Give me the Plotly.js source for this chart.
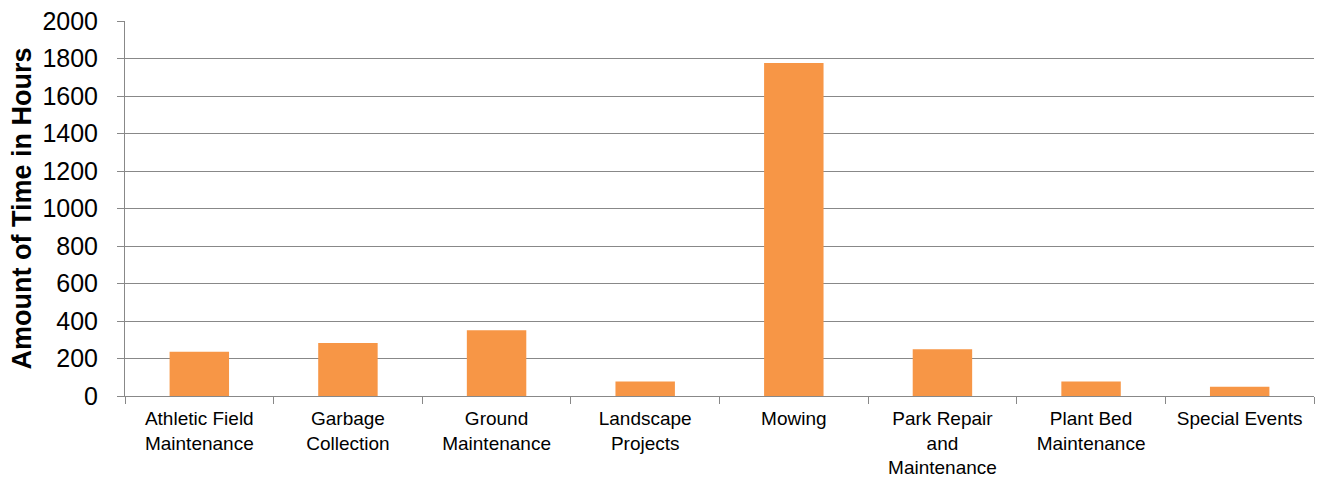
<!DOCTYPE html>
<html>
<head>
<meta charset="utf-8">
<script src="https://cdn.plot.ly/plotly-3.0.1.min.js"></script>
<style>
  html, body { margin: 0; padding: 0; background: #fff; }
  #chart { width: 1321px; height: 481px; }
</style>
</head>
<body>
<div id="chart"></div>
<script>
// Work categories and the hours spent on each
const categories = [
  "Athletic Field Maintenance",
  "Garbage Collection",
  "Ground Maintenance",
  "Landscape Projects",
  "Mowing",
  "Park Repair and Maintenance",
  "Plant Bed Maintenance",
  "Special Events"
];
const tickLabels = [
  "Athletic Field<br>Maintenance",
  "Garbage<br>Collection",
  "Ground<br>Maintenance",
  "Landscape<br>Projects",
  "Mowing",
  "Park Repair<br>and<br>Maintenance",
  "Plant Bed<br>Maintenance",
  "Special Events"
];
const hours = [236, 283, 351, 78, 1776, 249, 78, 49];
const yTicks = [0, 200, 400, 600, 800, 1000, 1200, 1400, 1600, 1800, 2000];

const FONT = '"Liberation Sans", Arial, sans-serif';
const GRID = '#888888';

const trace = {
  type: 'bar',
  x: categories,
  y: hours,
  marker: { color: '#F79646', line: { width: 0 } },
  hoverinfo: 'x+y'
};

const layout = {
  width: 1321,
  height: 481,
  margin: { l: 125, r: 7, t: 21, b: 85 },
  paper_bgcolor: '#ffffff',
  plot_bgcolor: '#ffffff',
  bargap: 0.6,
  showlegend: false,
  font: { family: FONT, color: '#000000' },
  xaxis: {
    type: 'category',
    tickvals: categories,
    ticktext: tickLabels,
    tickson: 'boundaries',
    ticks: 'outside',
    ticklen: 7,
    tickcolor: GRID,
    tickwidth: 1,
    ticklabelstandoff: 5,
    showline: true,
    linecolor: GRID,
    linewidth: 1,
    showgrid: false,
    tickfont: { family: FONT, size: 19, color: '#000000' },
    automargin: false
  },
  yaxis: {
    range: [0, 2000],
    tickvals: yTicks,
    ticks: 'outside',
    ticklen: 7,
    tickcolor: GRID,
    tickwidth: 1,
    ticklabelstandoff: 14,
    showline: true,
    linecolor: GRID,
    linewidth: 1,
    showgrid: true,
    gridcolor: GRID,
    gridwidth: 1,
    zeroline: false,
    tickfont: { family: FONT, size: 25, color: '#000000' },
    title: {
      text: '<b>Amount of Time in Hours</b>',
      font: { family: FONT, size: 27, color: '#000000' },
      standoff: 2
    },
    automargin: false
  }
};

Plotly.newPlot('chart', [trace], layout, { displayModeBar: false, staticPlot: true });
</script>
</body>
</html>
